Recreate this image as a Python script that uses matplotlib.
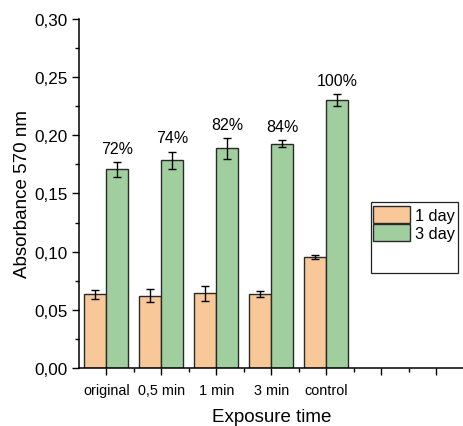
import matplotlib
matplotlib.use("Agg")
import matplotlib.pyplot as plt
import numpy as np
from matplotlib.patches import Rectangle, Patch
from matplotlib.ticker import FuncFormatter, MultipleLocator

plt.rcParams['font.family'] = ['Liberation Sans', 'DejaVu Sans']

categories = ["original", "0,5 min", "1 min", "3 min", "control"]
day1 = [0.0634, 0.0622, 0.0642, 0.0634, 0.0952]
day1_err = [0.0040, 0.0053, 0.0062, 0.0026, 0.0017]
day3 = [0.1708, 0.1786, 0.1889, 0.1929, 0.2302]
day3_err = [0.0062, 0.0075, 0.0089, 0.0027, 0.0054]
pct_labels = ["72%", "74%", "82%", "84%", "100%"]
series_names = ["1 day", "3 day"]

c1 = "#F9C898"
c2 = "#A0CE9E"
edge = "#2a2a2a"

fig = plt.figure(figsize=(4.64, 4.27), dpi=100)
ax = fig.add_axes([79/464, 1-369/427, 1-79/464, (369-20)/427])

x = np.arange(len(categories))
w = 0.4
ekw = dict(elinewidth=1.0, capthick=1.0, ecolor="black")
ax.bar(x - w/2, day1, w, yerr=day1_err, color=c1, edgecolor=edge, linewidth=1.0,
       capsize=3, error_kw=ekw, zorder=2)
ax.bar(x + w/2, day3, w, yerr=day3_err, color=c2, edgecolor=edge, linewidth=1.0,
       capsize=3, error_kw=ekw, zorder=2)

for xi, v, e, lab in zip(x, day3, day3_err, pct_labels):
    ax.annotate(lab, (xi + w/2, v + e), xytext=(0, 6.5), textcoords="offset points",
                ha="center", va="baseline", fontsize=11.5)

ax.set_xlim(-0.5, 6.35)
ax.set_ylim(0, 0.30)
ax.set_xticks(np.arange(0, 7))
ax.set_xticklabels(categories + ["", ""], fontsize=10.4)
ax.set_xticks(np.arange(0, 7) + 0.5, minor=True)
ax.yaxis.set_major_locator(MultipleLocator(0.05))
ax.yaxis.set_minor_locator(MultipleLocator(0.025))
ax.yaxis.set_major_formatter(FuncFormatter(lambda v, p: f"{v:.2f}".replace(".", ",")))
ax.tick_params(axis="y", labelsize=12.3)
ax.tick_params(which="major", length=5, width=1.0, direction="out")
ax.tick_params(which="minor", length=3, width=1.0, direction="out")
ax.tick_params(axis="x", pad=6)

for s in ["top", "right"]:
    ax.spines[s].set_visible(False)
for s in ["left", "bottom"]:
    ax.spines[s].set_linewidth(1.1)

ax.set_ylabel("Absorbance 570 nm", fontsize=13.5, labelpad=2)
ax.set_xlabel("Exposure time", fontsize=13.5, labelpad=7.5)

# legend frame (Origin style, extra empty space at bottom)
fig.patches.append(Rectangle((371/464, 1-273.7/427), 86.7/464, 70.4/427,
                             transform=fig.transFigure, fill=True, facecolor="white",
                             edgecolor="#222222", linewidth=0.9, zorder=3))
handles = [Patch(facecolor=c1, edgecolor=edge, linewidth=1.0),
           Patch(facecolor=c2, edgecolor=edge, linewidth=1.0)]
leg = fig.legend(handles, series_names, loc="upper left",
                 bbox_to_anchor=(373.3/464, 1-206.7/427), frameon=False,
                 fontsize=11.8, handlelength=2.26, handleheight=1.22,
                 handletextpad=0.28, labelspacing=0.1, borderpad=0, borderaxespad=0)
leg.set_zorder(4)

fig.savefig("out.png", dpi=100)
